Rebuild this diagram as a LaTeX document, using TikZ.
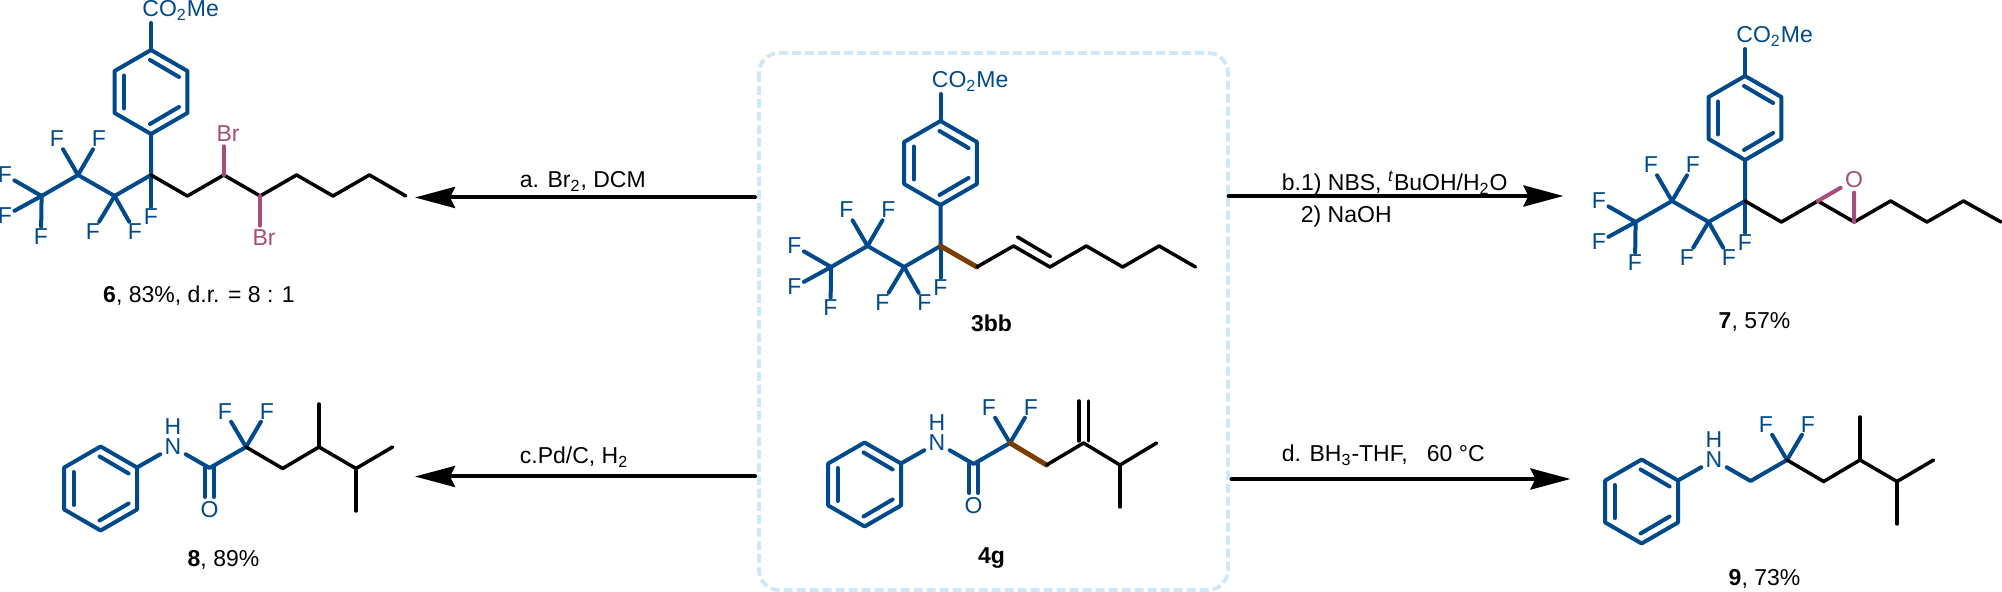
\documentclass[tikz,border=0pt]{standalone}
\usepackage{fontspec}
\setmainfont{Liberation Sans}
\usetikzlibrary{arrows.meta}
\definecolor{bondblue}{HTML}{004A8C}
\definecolor{bondpink}{HTML}{A64D79}
\definecolor{bondbrown}{HTML}{7A3E00}
\definecolor{boxblue}{HTML}{CFE7FB}
\tikzset{
  every node/.style={font=\fontsize{11.5}{13}\selectfont,inner sep=0pt},
  bluebond/.style={draw=bondblue,line width=2pt},
  blackbond/.style={draw=black,line width=1.75pt},
  pinkbond/.style={draw=bondpink,line width=2pt},
  brownbond/.style={draw=bondbrown,line width=2.5pt},
  atom/.style={text=bondblue,inner sep=1pt},
  bigatom/.style={text=bondblue,inner sep=2pt},
  pinkatom/.style={text=bondpink,inner sep=2pt},
  reagent/.style={anchor=base west},
  cmpd/.style={anchor=base},
  rxn/.style={->,line width=2pt}
}
\newcommand{\phring}[3]{
\begin{scope}[shift={(#2,#3)}]
\draw [bluebond] (0,-42) -- (36.4,-21) -- (36.4,21) -- (0,42) -- (-36.4,21) -- (-36.4,-21) -- cycle;
\draw [bluebond] (-1,-32) -- (28,-15);
\draw [bluebond] (-1,32) -- (28,15);
\draw [bluebond] (-27,-16.5) -- (-27,16.5);
\coordinate (#1up) at (0,-42);
\coordinate (#1low) at (0,42);
\coordinate (#1ur) at (36.4,-21);
\end{scope}
}
\newcommand{\arylrf}[3]{
\begin{scope}[shift={(#2,#3)}]
\phring{#1r}{0}{-83}
\coordinate (#1q) at (0,0);
\coordinate (#1a) at (-36.4,21);
\coordinate (#1b) at (-73,0);
\coordinate (#1c) at (-109.4,21);
\node [atom,anchor=base west] (#1est) at (-11,-158) {CO\textsubscript{2}Me};
\node [atom] (#1f1) at (0,42) {F};
\node [atom] (#1f2) at (-58,57) {F};
\node [atom] (#1f3) at (-16,57) {F};
\node [atom] (#1f4) at (-94,-36) {F};
\node [atom] (#1f5) at (-52,-36) {F};
\node [atom] (#1f6) at (-146,0) {F};
\node [atom] (#1f7) at (-146,41) {F};
\node [atom] (#1f8) at (-110,62) {F};
\draw [bluebond] (#1rup) -- (#1rup |- #1est.south);
\draw [bluebond] (#1rlow) -- (#1q) -- (#1a) -- (#1b) -- (#1c);
\draw [bluebond] (#1q) -- (#1f1);
\draw [bluebond] (#1a) -- (#1f2);
\draw [bluebond] (#1a) -- (#1f3);
\draw [bluebond] (#1b) -- (#1f4);
\draw [bluebond] (#1b) -- (#1f5);
\draw [bluebond] (#1c) -- (#1f6);
\draw [bluebond] (#1c) -- (#1f7);
\draw [bluebond] (#1c) -- (#1f8);
\end{scope}
}
\newcommand{\anilinecf}[3]{
\begin{scope}[shift={(#2,#3)}]
\phring{#1r}{-145.4}{41.5}
\coordinate (#1g) at (0,0);
\coordinate (#1c) at (-36.4,21);
\node [bigatom] (#1n) at (-73,0) {N};
\node [bigatom] (#1h) at (-73,-20) {H};
\node [atom] (#1f1) at (-21,-35.5) {F};
\node [atom] (#1f2) at (21,-35.5) {F};
\draw [bluebond] (#1rur) -- (#1n);
\draw [bluebond] (#1n) -- (#1c) -- (#1g);
\draw [bluebond] (#1g) -- (#1f1);
\draw [bluebond] (#1g) -- (#1f2);
\end{scope}
}
\newcommand{\carbonyl}[3]{
\begin{scope}[shift={(#2,#3)}]
\node [bigatom] (#1o) at (-36.4,63) {O};
\draw [bluebond] (-41,21) -- (-41,50);
\draw [bluebond] (-32,21) -- (-32,50);
\end{scope}
}
\newcommand{\dimethyl}[2]{
\begin{scope}[shift={(#1,#2)}]
\draw [blackbond] (0,0) -- (36.6,21.5) -- (73,0) -- (110,21.5) -- (146.6,0);
\draw [blackbond] (73,0) -- (73,-43);
\draw [blackbond] (110,21.5) -- (110,64);
\end{scope}
}
\begin{document}
\begin{tikzpicture}[line cap=round,line join=round,x=0.5pt,y=-0.5pt,>={Stealth[length=20pt,width=10.5pt,inset=2.5pt]}]
\useasboundingbox (0,0) rectangle (2002,592);
\draw [boxblue,line width=1.9pt,line cap=butt,dash pattern=on 4.5pt off 2pt,rounded corners=10pt] (759,53) rectangle (1228,590);

\arylrf{p}{151}{175}
\draw [blackbond] (pq) -- ++(36.4,21) -- ++(36.4,-21) coordinate (pbr1) -- ++(36.4,21) coordinate (pbr2) -- ++(36.4,-21) -- ++(36.4,21) -- ++(36.4,-21) -- ++(36.4,21);
\node [pinkatom] (pb1) at (228,134) {Br};
\node [pinkatom] (pb2) at (264,238) {Br};
\draw [pinkbond] (pbr1) -- (pbr1 |- pb1.south);
\draw [pinkbond] (pbr2) -- (pbr2 |- pb2.north);
\node [cmpd] (lab6) at (199,303) {\textbf{6}, 83\%, d.r. = 8 : 1};

\arylrf{s}{940.5}{246}
\draw [brownbond] (sq) -- ++(36.4,21) coordinate (sc1);
\draw [blackbond] (sc1) -- ++(36.6,-21) coordinate (sc2) -- ++(36.4,21) coordinate (sc3) -- ++(36.4,-21) -- ++(36.4,21) -- ++(36.4,-21) -- ++(36.4,21);
\draw [blackbond] (1017.5,237) -- (1050.5,256.5);
\node [cmpd] (lab3) at (991.5,331.5) {\textbf{3bb}};

\arylrf{e}{1745}{201}
\draw [blackbond] (eq) -- ++(36.4,21) -- ++(36.4,-21) coordinate (ec1) -- ++(36.4,21) coordinate (ec2) -- ++(36.4,-21) -- ++(36.4,21) -- ++(36.4,-21) -- ++(37.6,21);
\node [pinkatom] (eo) at (1854,180) {O};
\draw [pinkbond] (ec1) -- (eo);
\draw [pinkbond] (ec2) -- (eo);
\node [cmpd] (lab7) at (1754.5,329) {\textbf{7}, 57\%};

\anilinecf{d}{246}{447}
\carbonyl{d}{246}{447}
\dimethyl{246}{447}
\node [cmpd] (lab8) at (223.5,567) {\textbf{8}, 89\%};

\anilinecf{g}{1010}{443}
\carbonyl{g}{1010}{443}
\draw [brownbond] (gg) -- ++(36.6,22) coordinate (gc1);
\draw [blackbond] (gc1) -- ++(37,-22) coordinate (gc2) -- ++(36.4,22) coordinate (gc3) -- ++(36.6,-22);
\draw [blackbond] (gc3) -- ++(0,42);
\draw [blackbond] (1079,441) -- (1079,401);
\draw [blackbond] (1088.5,441) -- (1088.5,401);
\node [cmpd] (lab4) at (991.5,564) {\textbf{4g}};

\anilinecf{a}{1787}{460}
\dimethyl{1787}{460}
\node [cmpd] (lab9) at (1764.5,586) {\textbf{9}, 73\%};

\coordinate (astart) at (755,197.5);
\coordinate (aend) at (415,197.5);
\coordinate (bstart) at (1228.5,196);
\coordinate (bend) at (1563.5,196);
\coordinate (cstart) at (755,476.5);
\coordinate (cend) at (415,476.5);
\coordinate (dstart) at (1231.5,479);
\coordinate (dend) at (1570.5,479);
\draw [rxn] (astart) -- (aend);
\draw [rxn] (bstart) -- (bend);
\draw [rxn] (cstart) -- (cend);
\draw [rxn] (dstart) -- (dend);
\node [reagent] (rga) at (519.5,188) {a. Br\textsubscript{2}, DCM};
\node [reagent] (rgb) at (1281.5,190.5) {b.1) NBS, \textsuperscript{\textit{t}}BuOH/H\textsubscript{2}O};
\node [reagent] (rgb2) at (1300.5,222.5) {2) NaOH};
\node [reagent] (rgc) at (519.5,464) {c.Pd/C, H\textsubscript{2}};
\node [reagent] (rgd) at (1281.5,461.5) {d. BH\textsubscript{3}-THF,\ \ \ 60 °C};
\end{tikzpicture}
\end{document}
